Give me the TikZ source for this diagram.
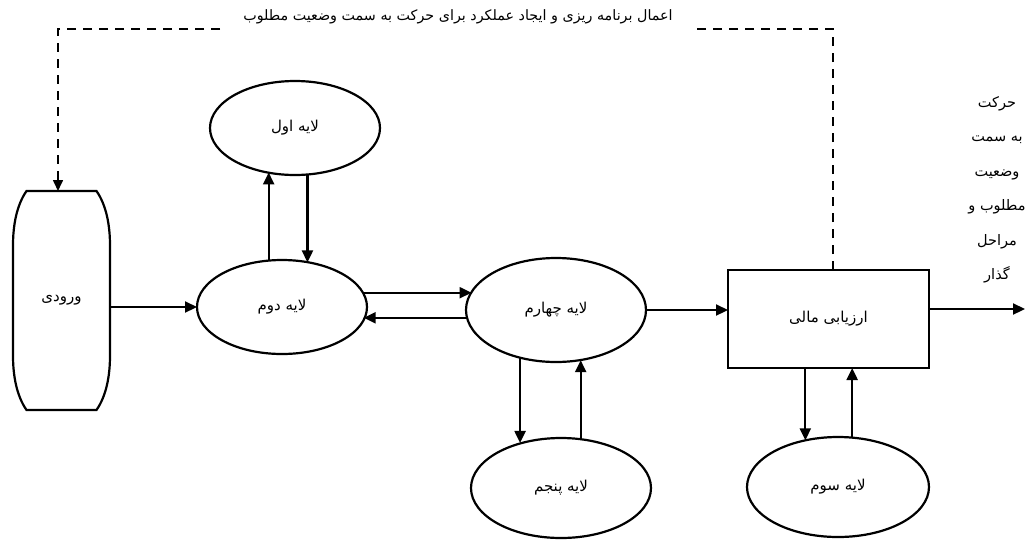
\documentclass[tikz,border=0pt]{standalone}
\usepackage{fontspec}
\newfontfamily\fa[Script=Arabic]{DejaVu Sans}
\TeXXeTstate=1
\usetikzlibrary{shapes.geometric,arrows.meta,calc}
\begin{document}
\begin{tikzpicture}[x=1pt,y=-1pt,
  lw/.style={line width=2.2pt},
  arr/.style={lw,-{Triangle[length=12pt,width=11pt]}},
  dsh/.style={line width=1.6pt,dash pattern=on 9pt off 7pt},
  lay/.style={ellipse,draw,lw,inner sep=0pt,outer sep=0pt,font=\fa\fontsize{15}{17}\selectfont},
  txt/.style={font=\fa\fontsize{15}{17}\selectfont}]
\useasboundingbox (0,0) rectangle (1026,542);

% nodes
\node[lay,minimum width=170pt,minimum height=94pt] (l1) at (295,128) {\beginR لایه اول\endR};
\node[lay,minimum width=170pt,minimum height=94pt] (l2) at (282,307) {\beginR لایه دوم\endR};
\node[lay,minimum width=180pt,minimum height=104pt] (l4) at (556,310) {\beginR لایه چهارم\endR};
\node[lay,minimum width=180pt,minimum height=100pt] (l5) at (561,488) {\beginR لایه پنجم\endR};
\node[lay,minimum width=182pt,minimum height=100pt] (l3) at (838,487) {\beginR لایه سوم\endR};
\node[draw,lw,inner sep=0pt,outer sep=0pt,minimum width=201pt,minimum height=98pt,txt] (box) at (828.5,319) {\beginR ارزیابی مالی\endR};
\node[inner sep=0pt,outer sep=0pt,minimum width=97pt,minimum height=219pt,txt] (in) at (61.5,300.5) {\beginR ورودی\endR};
\begin{scope}[shift={(in.center)}]
\draw[lw] (-35,-109.5) -- (35,-109.5)
  .. controls (45,-95) and (48.5,-75) .. (48.5,-55) -- (48.5,55)
  .. controls (48.5,75) and (45,95) .. (35,109.5) -- (-35,109.5)
  .. controls (-45,95) and (-48.5,75) .. (-48.5,55) -- (-48.5,-55)
  .. controls (-48.5,-75) and (-45,-95) .. (-35,-109.5) -- cycle;
\end{scope}

\node[font=\fa\fontsize{14.3}{17}\selectfont,inner sep=0pt] (title) at (458,17) {\beginR اعمال برنامه ریزی و ایجاد عملکرد برای حرکت به سمت وضعیت مطلوب\endR};
\node[font=\fa\fontsize{14.5}{34.5}\selectfont,align=center,inner sep=0pt] (rt) at (997,190)
  {\beginR حرکت\endR\\ \beginR به سمت\endR\\ \beginR وضعیت\endR\\ \beginR مطلوب و\endR\\ \beginR مراحل\endR\\ \beginR گذار\endR};

\coordinate (dl) at (58,29);
\coordinate (dlend) at (220,29);
\coordinate (dr) at (833,29);
\coordinate (drend) at (697,29);
\coordinate (out) at (1025,309);

% connectors
\draw[arr] (l2.west -| in.east) -- (l2.west);
\draw[arr] (l2.106.8) -- (l2.106.8 |- l1.238.8);
\draw[arr] (l1.285.6) -- (l1.285.6 |- l2.59.8);
\draw[arr] (l2.10.5) -- (l2.10.5 -| l4.168);
\draw[arr] (l4.185.8) -- (l4.185.8 -| l2.351.7);
\draw[arr] (l4.233.8) -- (l4.233.8 |- l5.131.8);
\draw[arr] (l5.68.8) -- (l5.68.8 |- l4.295.6);
\draw[arr] (l4.east) -- (l4.east -| box.west);
\draw[arr] (box.south -| l3.125.3) -- (l3.125.3);
\draw[arr] (l3.74.2) -- (box.south -| l3.74.2);
\draw[arr] (box.east |- out) -- (out);

\draw[dsh] (box.north -| dr) -- (dr) -- (drend);
\draw[dsh] (dlend) -- (dl) -- ([yshift=10pt]dl |- in.north);
\draw[line width=1.6pt,-{Triangle[length=11pt,width=10pt]}] ([yshift=12pt]dl |- in.north) -- (dl |- in.north);
\end{tikzpicture}
\end{document}
